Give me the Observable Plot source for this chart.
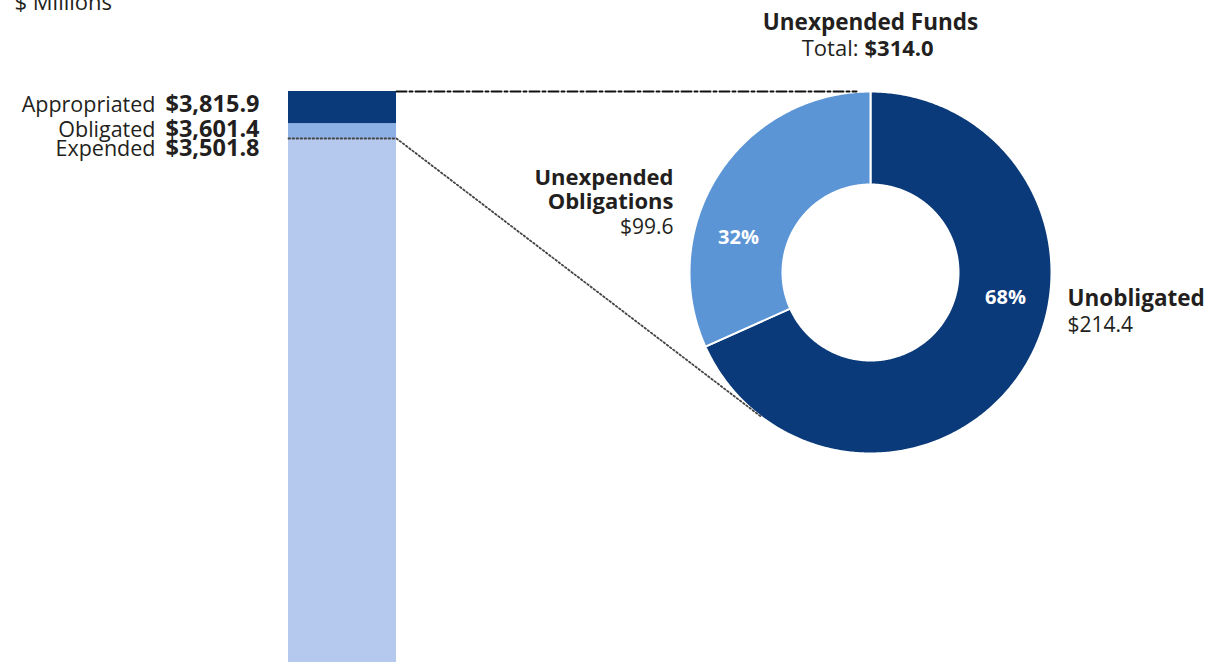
<!DOCTYPE html>
<html><head><meta charset="utf-8">
<script src="https://cdn.jsdelivr.net/npm/d3@7"></script>
<script src="https://cdn.jsdelivr.net/npm/@observablehq/plot@0.6"></script>
<style>
body{margin:0;background:#fff;}
#wrap{position:relative;width:1227px;height:667px;overflow:hidden;}
#wrap svg{position:absolute;left:0;top:0;overflow:visible;}
</style></head><body><div id="wrap"></div>
<script>
// ---- data ----
const unitLabel = "$ Millions";
const barLevels = ["Appropriated", "Obligated", "Expended"];
const barValues = [3815.9, 3601.4, 3501.8];
const sliceNames = ["Unobligated", "Unexpended Obligations"];
const sliceLabelLines = [["Unobligated"], ["Unexpended", "Obligations"]];
const sliceValues = [214.4, 99.6];
const slicePct = ["68%", "32%"];
const donutTitle = "Unexpended Funds";
const donutTotal = 314.0;

// ---- style / layout ----
const W = 1227, H = 667;
const FONT = "Open Sans, sans-serif";
const INK = "#231f20";
const NAVY = "#0a3a79", MID = "#5b95d6", BAND = "#8db0e5", PALE = "#b5c8ed";
const fmt = d3.format("$,.1f");
const cx = 870, cy = 272, R = 181, R0 = 88;

const wrap = document.getElementById("wrap");

// ---- bar (dollar scale) ----
const segs = [
  {name: "Expended", y1: 0, y2: barValues[2]},
  {name: "Unexpended Obligations", y1: barValues[2], y2: barValues[1]},
  {name: "Unobligated", y1: barValues[1], y2: barValues[0]}
];
const bar = Plot.plot({
  width: W, height: H, margin: 0,
  style: {background: "transparent"},
  x: {type: "band", domain: ["FY"], range: [288, 396], padding: 0, axis: null},
  y: {domain: [0, barValues[0]], range: [662, 91], axis: null},
  color: {domain: ["Expended", "Unexpended Obligations", "Unobligated"], range: [PALE, BAND, NAVY]},
  marks: [
    Plot.barY(segs, {x: () => "FY", y1: "y1", y2: "y2", fill: "name", inset: 0})
  ]
});
wrap.appendChild(bar);
const yb = bar.scale("y");
const xb = bar.scale("x");
const barL = xb.apply("FY"), barR = barL + xb.bandwidth;

// ---- donut geometry (layout units) ----
const arcs = d3.pie().sort(null).value(d => d.value)(sliceNames.map((n, i) => ({name: n, value: sliceValues[i]})));
const pts = [];
for (const a of arcs) {
  const n = Math.ceil((a.endAngle - a.startAngle) / 0.01);
  const push = (r, t) => pts.push({name: a.data.name, x: cx + r * Math.sin(t), y: cy - r * Math.cos(t)});
  for (let i = 0; i <= n; i++) push(R, a.startAngle + (a.endAngle - a.startAngle) * i / n);
  for (let i = n; i >= 0; i--) push(R0, a.startAngle + (a.endAngle - a.startAngle) * i / n);
  push(R, a.startAngle);
}

// connectors
const yTop = yb.apply(barValues[0]);
const yExp = yb.apply(barValues[2]);
const topLine = [{x: barR, y: yTop}, {x: cx - 14, y: yTop}];
const P = {x: barR, y: yExp};
const d = Math.hypot(cx - P.x, cy - P.y);
const base = Math.atan2(P.y - cy, P.x - cx);
const ang = base - Math.acos(R / d);
const T = {x: cx + R * Math.cos(ang), y: cy + R * Math.sin(ang)};
const expLine = [{x: barL, y: yExp}, {x: barR, y: yExp}, T];

// text rows
const rowY = [111, 136, 155];
const rows = barLevels.map((l, i) => ({label: l, value: fmt(barValues[i]), y: rowY[i]}));

const txt = (data, o) => Plot.text(data, {fontFamily: FONT, fill: INK, lineAnchor: "bottom", text: d => d, ...o});

const over = Plot.plot({
  width: W, height: H, margin: 0,
  style: {background: "transparent"},
  x: {domain: [0, W], range: [0, W], axis: null},
  y: {domain: [0, H], range: [0, H], axis: null},
  color: {domain: sliceNames, range: [NAVY, MID]},
  marks: [
    Plot.line(pts, {x: "x", y: "y", z: "name", fill: "name", stroke: "white", strokeWidth: 2, strokeLinejoin: "round"}),
    Plot.line(topLine, {x: "x", y: "y", stroke: "#111", strokeWidth: 2, strokeDasharray: "10,3,3,3"}),
    Plot.line(expLine, {x: "x", y: "y", stroke: "#444", strokeWidth: 1.8, strokeDasharray: "1.6,2.4"}),
    // unit
    txt([unitLabel], {x: 14, y: 9, textAnchor: "start", fontSize: 22}),
    // left labels
    txt(rows, {x: 155, y: "y", text: "label", textAnchor: "end", fontSize: 21.5}),
    txt(rows, {x: 165, y: "y", text: "value", textAnchor: "start", fontSize: 23.5, fontWeight: "bold"}),
    // donut title
    txt([donutTitle], {x: cx, y: 29, textAnchor: "middle", fontSize: 22.5, fontWeight: "bold"}),
    txt(["Total:"], {x: 858, y: 55, textAnchor: "end", fontSize: 22}),
    txt([fmt(donutTotal)], {x: 864, y: 55, textAnchor: "start", fontSize: 22, fontWeight: "bold"}),
    // slice labels
    txt([sliceLabelLines[1][0]], {x: 673, y: 184, textAnchor: "end", fontSize: 22, fontWeight: "bold"}),
    txt([sliceLabelLines[1][1]], {x: 673, y: 208, textAnchor: "end", fontSize: 22, fontWeight: "bold"}),
    txt([fmt(sliceValues[1])], {x: 673, y: 233, textAnchor: "end", fontSize: 21}),
    txt([sliceLabelLines[0][0]], {x: 1067, y: 305, textAnchor: "start", fontSize: 22.5, fontWeight: "bold"}),
    txt([fmt(sliceValues[0])], {x: 1067, y: 331, textAnchor: "start", fontSize: 21}),
    // percents
    Plot.text([slicePct[0]], {x: 1005, y: 297, text: d => d, fontFamily: FONT, fontSize: 20, fontWeight: "bold", fill: "white"}),
    Plot.text([slicePct[1]], {x: 738, y: 237, text: d => d, fontFamily: FONT, fontSize: 20, fontWeight: "bold", fill: "white"})
  ]
});
wrap.appendChild(over);
</script></body></html>
